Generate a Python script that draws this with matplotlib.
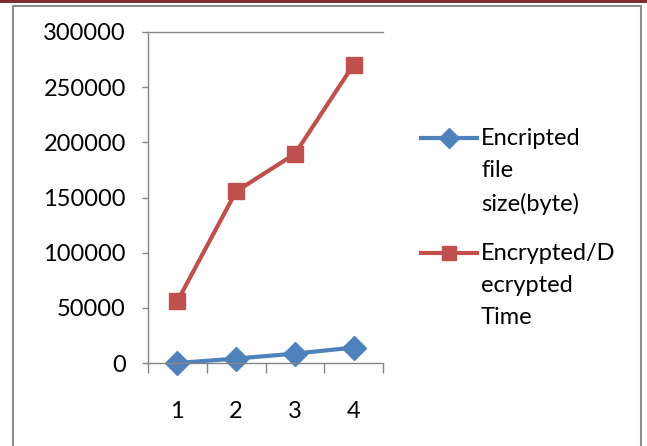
import matplotlib.pyplot as plt
from matplotlib.lines import Line2D
from matplotlib.patches import Rectangle

categories = ['1', '2', '3', '4']
file_size = [0, 4000, 8500, 14000]
crypt_time = [56000, 155500, 189500, 270500]
yticks = [0, 50000, 100000, 150000, 200000, 250000, 300000]
series_labels = ['Encripted\nfile\nsize(byte)', 'Encrypted/D\necrypted\nTime']
colors = ['#4F81BD', '#C0504D']
markers = ['D', 's']

plt.rcParams['font.family'] = ['Lato', 'DejaVu Sans']

W, H = 647, 446
fig = plt.figure(figsize=(W / 100, H / 100), dpi=100)
ax = fig.add_axes([148 / W, 1 - 363 / H, (383 - 148) / W, (363 - 32) / H])

x = list(range(len(categories)))
for vals, c, m in zip([file_size, crypt_time], colors, markers):
    ax.plot(x, vals, '-', marker=m, color=c, lw=3, ms=12, clip_on=False)

ax.set_xlim(-0.5, len(categories) - 0.5)
ax.set_ylim(0, 300000)
ax.set_yticks(yticks)
ax.set_yticklabels([str(v) for v in yticks])
ax.set_xticks(x)
ax.set_xticklabels(categories)
ax.set_xticks([i - 0.5 for i in range(len(categories) + 1)], minor=True)

ax.axhline(300000, color='#868686', lw=1, clip_on=False)

for s in ['top', 'right']:
    ax.spines[s].set_visible(False)
for s in ['left', 'bottom']:
    ax.spines[s].set_color('#868686')
    ax.spines[s].set_linewidth(1)

ax.tick_params(axis='y', length=4, width=1, color='#868686', pad=12,
               labelsize=17, labelcolor='#000000')
ax.tick_params(axis='x', which='major', length=0, pad=27, labelsize=17)
ax.tick_params(axis='x', which='minor', length=7, width=1, color='#868686')

# legend: handle beside the first line of each wrapped label
leg_handle_y = [138, 253]
leg_top_y = [128, 243]
for lab, c, m, hy, ty in zip(series_labels, colors, markers, leg_handle_y, leg_top_y):
    fig.add_artist(Line2D([421 / W, 477 / W], [1 - hy / H, 1 - hy / H],
                          transform=fig.transFigure, color=c, lw=3))
    fig.add_artist(Line2D([449 / W], [1 - hy / H], transform=fig.transFigure,
                          color=c, marker=m, ms=10, lw=0))
    fig.text(481 / W, 1 - ty / H, lab, fontsize=17, va='top', ha='left',
             linespacing=1.65)

# outer chart frame and top band
fig.add_artist(Rectangle((0, 1 - 3 / H), 1, 3 / H, transform=fig.transFigure,
                         color='#7B2E2E', lw=0))
fig.add_artist(Line2D([12.5 / W, 12.5 / W, 640.5 / W, 640.5 / W],
                      [0, 1 - 5.5 / H, 1 - 5.5 / H, 0],
                      transform=fig.transFigure, color='#8C8C8C', lw=1.5))

fig.savefig('out.png', dpi=100)
